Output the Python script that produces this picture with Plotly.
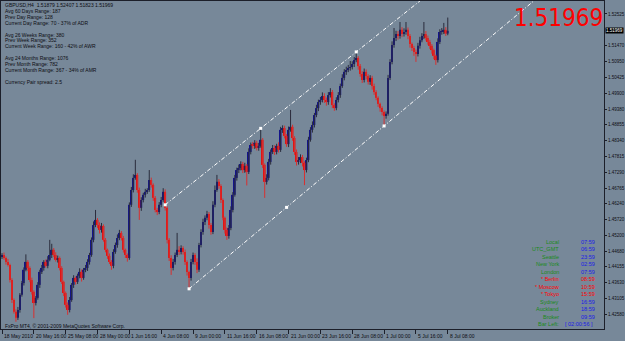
import plotly.graph_objects as go

# ---------------- data ----------------
symbol = "GBPUSD,H4"
first_open = 1.4450
closes = [
    1.4455, 1.4445, 1.4432, 1.4422, 1.4372, 1.4306, 1.4267, 1.4247, 1.4273, 1.4323, 1.4362, 1.4406, 1.4432, 1.4412, 1.4372,
    1.4333, 1.4296, 1.4313, 1.4356, 1.4399, 1.4412, 1.4432, 1.4419, 1.4439, 1.4455, 1.4472, 1.4455, 1.4439, 1.4445, 1.4412,
    1.4366, 1.4329, 1.4290, 1.4273, 1.4306, 1.4356, 1.4379, 1.4366, 1.4386, 1.4399, 1.4379, 1.4406, 1.4412, 1.4432, 1.4455,
    1.4505, 1.4554, 1.4571, 1.4554, 1.4538, 1.4551, 1.4505, 1.4472, 1.4452, 1.4432, 1.4419, 1.4465, 1.4488, 1.4511, 1.4528,
    1.4511, 1.4472, 1.4455, 1.4445, 1.4621, 1.4670, 1.4710, 1.4720, 1.4670, 1.4611, 1.4637, 1.4654, 1.4664, 1.4670, 1.4703,
    1.4687, 1.4644, 1.4604, 1.4597, 1.4621, 1.4637, 1.4664, 1.4611, 1.4505, 1.4445, 1.4412, 1.4432, 1.4455, 1.4472, 1.4465,
    1.4478, 1.4465, 1.4432, 1.4399, 1.4379, 1.4432, 1.4455, 1.4432, 1.4406, 1.4488, 1.4531, 1.4564, 1.4578, 1.4591, 1.4554,
    1.4531, 1.4621, 1.4670, 1.4697, 1.4683, 1.4637, 1.4578, 1.4538, 1.4518, 1.4544, 1.4604, 1.4654, 1.4710, 1.4736, 1.4743,
    1.4756, 1.4736, 1.4750, 1.4730, 1.4796, 1.4819, 1.4816, 1.4826, 1.4809, 1.4816, 1.4836, 1.4753, 1.4697, 1.4710, 1.4763,
    1.4796, 1.4809, 1.4796, 1.4816, 1.4803, 1.4869, 1.4875, 1.4849, 1.4822, 1.4869, 1.4879, 1.4842, 1.4796, 1.4763, 1.4769,
    1.4779, 1.4760, 1.4736, 1.4769, 1.4836, 1.4869, 1.4885, 1.4918, 1.4941, 1.4961, 1.4968, 1.4981, 1.4968, 1.4961, 1.4984,
    1.4994, 1.4951, 1.4941, 1.4968, 1.4984, 1.5014, 1.5041, 1.5061, 1.5067, 1.5074, 1.5077, 1.5087, 1.5100, 1.5107, 1.5080,
    1.5054, 1.5034, 1.5061, 1.5047, 1.5028, 1.5041, 1.5014, 1.4994, 1.4975, 1.4955, 1.4941, 1.4928, 1.4915, 1.4922, 1.5041,
    1.5094, 1.5150, 1.5173, 1.5186, 1.5180, 1.5200, 1.5186, 1.5193, 1.5200, 1.5180, 1.5153, 1.5140, 1.5127, 1.5120, 1.5147,
    1.5166, 1.5180, 1.5186, 1.5173, 1.5160, 1.5147, 1.5133, 1.5114, 1.5100, 1.5160, 1.5193, 1.5196, 1.5200, 1.51879, 1.51969,
]
# wick sizes in pips (above max(open, close) and below min(open, close))
up_wick_pips = [
    6, 8, 5, 10, 4, 6, 5, 8, 10, 6, 7, 8, 25, 6, 5,
    8, 5, 6, 9, 7, 10, 6, 8, 12, 50, 20, 6, 9, 8, 5,
    6, 4, 5, 8, 10, 6, 9, 5, 7, 12, 8, 6, 10, 9, 7,
    8, 12, 33, 6, 9, 10, 5, 6, 4, 8, 6, 9, 8, 12, 10,
    6, 7, 4, 5, 8, 10, 12, 50, 6, 8, 9, 7, 10, 6, 33,
    8, 5, 6, 7, 9, 10, 12, 8, 5, 6, 9, 10, 8, 56, 12,
    9, 6, 8, 5, 4, 10, 8, 6, 12, 7, 9, 11, 8, 10, 6,
    7, 12, 15, 23, 9, 6, 5, 4, 8, 10, 12, 9, 10, 8, 11,
    9, 7, 10, 6, 12, 8, 10, 9, 7, 10, 40, 6, 5, 12, 10,
    8, 10, 9, 7, 12, 10, 9, 8, 6, 11, 56, 7, 6, 8, 10,
    9, 7, 5, 8, 10, 9, 12, 7, 11, 8, 10, 12, 9, 8, 10,
    13, 7, 6, 9, 10, 8, 12, 9, 11, 10, 20, 9, 10, 20, 6,
    7, 9, 11, 8, 6, 9, 7, 8, 6, 5, 4, 6, 5, 8, 10,
    9, 12, 33, 11, 10, 26, 9, 12, 26, 8, 6, 5, 7, 8, 10,
    11, 9, 40, 10, 8, 7, 6, 5, 4, 12, 9, 10, 23, 9, 43.8,
]
down_wick_pips = [
    8, 6, 9, 5, 8, 10, 6, 13, 7, 9, 6, 8, 5, 10, 7,
    9, 50, 8, 6, 10, 7, 9, 6, 8, 5, 10, 7, 6, 9, 8,
    7, 10, 9, 16, 8, 6, 10, 9, 7, 8, 12, 6, 8, 10, 9,
    6, 8, 7, 10, 12, 9, 6, 8, 10, 7, 13, 8, 6, 9, 7,
    8, 9, 10, 12, 6, 7, 8, 6, 9, 40, 10, 8, 9, 7, 6,
    9, 10, 8, 10, 7, 8, 6, 9, 12, 10, 23, 8, 9, 7, 10,
    8, 9, 10, 12, 36, 9, 8, 10, 11, 7, 8, 9, 10, 8, 12,
    9, 7, 8, 6, 9, 10, 8, 12, 13, 9, 7, 8, 6, 9, 10,
    8, 10, 9, 45, 7, 8, 9, 10, 8, 9, 6, 10, 53, 9, 8,
    9, 7, 10, 8, 9, 7, 10, 8, 9, 10, 6, 9, 10, 12, 9,
    10, 12, 50, 8, 7, 6, 9, 8, 7, 10, 9, 8, 10, 12, 9,
    8, 10, 9, 7, 8, 9, 6, 8, 10, 7, 9, 8, 10, 7, 12,
    9, 10, 8, 11, 9, 10, 12, 9, 8, 10, 12, 11, 33, 9, 6,
    7, 8, 9, 10, 12, 9, 10, 8, 9, 11, 12, 10, 13, 26, 8,
    9, 7, 10, 8, 9, 10, 12, 11, 16, 8, 7, 9, 10, 8, 5.6,
]

time_tick_bars = [0, 16, 32, 48, 64, 80, 96, 112, 128, 144, 160, 176, 192, 208, 224]
time_tick_labels = ["18 May 2010", "20 May 16:00", "25 May 08:00", "28 May 00:00", "1 Jun 16:00",
                    "4 Jun 08:00", "9 Jun 00:00", "11 Jun 16:00", "16 Jun 08:00", "21 Jun 00:00",
                    "23 Jun 16:00", "28 Jun 08:00", "1 Jul 00:00", "5 Jul 16:00", "8 Jul 08:00"]
price_ticks = [1.52525, 1.51470, 1.50950, 1.50425, 1.49900, 1.49380, 1.48855, 1.48340, 1.47815, 1.47290,
               1.46765, 1.46240, 1.45720, 1.45200, 1.44680, 1.44155, 1.43630, 1.43105, 1.42580, 1.42070]

upper_anchor_bars = [82, 178]
upper_anchor_prices = [1.4621, 1.5127]
lower_anchor_bars = [94, 192]
lower_anchor_prices = [1.4343, 1.4882]

info_lines = [
    "Avg 60 Days Range: 187", "Prev Day Range: 128", "Current Day Range: 70 - 37% of ADR", "",
    "Avg 26 Weeks Range: 380", "Prev Week Range: 352", "Current Week Range: 160 - 42% of AWR", "",
    "Avg 24 Months Range: 1076", "Prev Month Range: 782", "Current Month Range: 367 - 34% of AMR", "",
    "Currency Pair spread: 2.5",
]
clock_labels = ["Local", "UTC_GMT", "Seattle", "New York", "London", "* Berlin", "* Moscow", "* Tokyo",
                "Sydney", "Auckland", "Broker", "Bar Left:"]
clock_values = ["07:59", "06:59", "23:59", "02:59", "07:59", "08:59", "10:59", "15:59",
                "16:59", "18:59", "09:59", "[ 02:00:56 ]"]
clock_flags = [0, 0, 0, 0, 0, 1, 1, 1, 0, 0, 0, 0]  # 1 = highlighted (red)
copyright_text = "FxPro MT4, © 2001-2009 MetaQuotes Software Corp."

# ---------------- derived OHLC ----------------
n = len(closes)
bars = list(range(n))
opens = [first_open] + closes[:-1]
highs = [max(o, c) + u * 0.0001 for o, c, u in zip(opens, closes, up_wick_pips)]
lows = [min(o, c) - d * 0.0001 for o, c, d in zip(opens, closes, down_wick_pips)]

BG = "#778899"
AXIS = "#1c1f2a"
TXT = "#0d0d12"
BULL = "#14148a"
BULL_WICK = "#2a2c3c"
BEAR = "#e01414"
BEAR_WICK = "#d83030"
GREEN = "#1a8a1a"
BLUE = "#1a1ae6"
RED = "#ff0000"
FONT = "Liberation Sans, Arial, sans-serif"

X0, X1 = -0.5, 302.5
Y0, Y1 = 1.4210, 1.52955

fig = go.Figure()

# wicks
for is_bull, wcol in ((True, BULL_WICK), (False, BEAR_WICK)):
    wx, wy = [], []
    for b, o, h, l, c in zip(bars, opens, highs, lows, closes):
        if (c >= o) == is_bull:
            wx += [b, b, None]
            wy += [l, h, None]
    fig.add_trace(go.Scatter(x=wx, y=wy, mode="lines", line=dict(color=wcol, width=1),
                             hoverinfo="skip", showlegend=False))

# bodies
for is_bull, bcol in ((True, BULL), (False, BEAR)):
    bx, bbase, bh = [], [], []
    for b, o, c in zip(bars, opens, closes):
        if (c >= o) == is_bull:
            bx.append(b)
            bbase.append(min(o, c))
            bh.append(max(abs(c - o), 0.00012))
    fig.add_trace(go.Bar(x=bx, y=bh, base=bbase, width=0.9, marker=dict(color=bcol, line=dict(width=0)),
                         hoverinfo="skip", showlegend=False))


def channel(anchor_bars, anchor_prices):
    slope = (anchor_prices[1] - anchor_prices[0]) / (anchor_bars[1] - anchor_bars[0])
    xs = [anchor_bars[0], X1]
    ys = [anchor_prices[0], anchor_prices[0] + slope * (X1 - anchor_bars[0])]
    fig.add_trace(go.Scatter(x=xs, y=ys, mode="lines",
                             line=dict(color="white", width=1, dash="4px,2px,1px,2px"),
                             hoverinfo="skip", showlegend=False))
    mid_b = (anchor_bars[0] + anchor_bars[1]) / 2
    mid_p = (anchor_prices[0] + anchor_prices[1]) / 2
    fig.add_trace(go.Scatter(x=[anchor_bars[0], mid_b, anchor_bars[1]],
                             y=[anchor_prices[0], mid_p, anchor_prices[1]],
                             mode="markers", marker=dict(symbol="square", size=3, color="white"),
                             hoverinfo="skip", showlegend=False, cliponaxis=False))


channel(upper_anchor_bars, upper_anchor_prices)
channel(lower_anchor_bars, lower_anchor_prices)

ann = []
# header line + info block
header = "%s  %.5f %.5f %.5f %.5f" % (symbol, opens[-1], highs[-1], lows[-1], closes[-1])
for k, line in enumerate([header] + info_lines):
    if not line:
        continue
    ann.append(dict(xref="paper", yref="paper", x=0, y=1, xanchor="left", yanchor="middle",
                    xshift=2, yshift=-(4 + 5.9 * k), text=line, showarrow=False,
                    font=dict(family=FONT, size=5, color=TXT)))

# big price
ann.append(dict(xref="paper", yref="paper", x=1, y=1, xanchor="right", yanchor="middle",
                xshift=1, yshift=-17, text="%.5f" % closes[-1], showarrow=False,
                font=dict(family="Liberation Sans Narrow, Arial Narrow, DejaVu Sans Condensed, Liberation Sans",
                          size=24, color=RED)))

# clock panel
for k, (lab, val, fl) in enumerate(zip(clock_labels, clock_values, clock_flags)):
    yshift = -(240.5 + 7.5 * k)
    ann.append(dict(xref="paper", yref="paper", x=0, y=1, xanchor="right", yanchor="middle",
                    xshift=560, yshift=yshift, text=lab, showarrow=False,
                    font=dict(family=FONT, size=5.5, color=RED if fl else GREEN)))
    vx = 562 if val.startswith("[") else 578
    ann.append(dict(xref="paper", yref="paper", x=0, y=1, xanchor="left", yanchor="middle",
                    xshift=vx, yshift=yshift, text=val, showarrow=False,
                    font=dict(family=FONT, size=5.5, color=RED if fl else BLUE)))

# copyright
ann.append(dict(xref="paper", yref="paper", x=0, y=0, xanchor="left", yanchor="middle",
                xshift=2, yshift=3, text=copyright_text, showarrow=False,
                font=dict(family=FONT, size=5, color=TXT)))

# time labels
for b, lab in zip(time_tick_bars, time_tick_labels):
    ann.append(dict(xref="x", yref="paper", x=b, y=0, xanchor="left", yanchor="middle",
                    xshift=0, yshift=-7, text=lab, showarrow=False,
                    font=dict(family=FONT, size=5, color=TXT)))

# current price marker on axis
ann.append(dict(xref="paper", yref="y", x=1, y=closes[-1], xanchor="left", yanchor="middle",
                xshift=1, text="%.5f" % closes[-1], showarrow=False, bgcolor="#000000",
                borderpad=0, font=dict(family=FONT, size=4.5, color="white")))

fig.update_layout(
    width=625, height=341,
    margin=dict(l=1, r=21, t=1, b=12, autoexpand=False),
    paper_bgcolor=BG, plot_bgcolor=BG,
    showlegend=False, barmode="overlay",
    font=dict(family=FONT, size=5, color=TXT),
    annotations=ann,
    xaxis=dict(range=[X0, X1], showgrid=False, zeroline=False,
               showline=True, mirror=True, linecolor=AXIS, linewidth=1,
               tickvals=time_tick_bars, ticks="outside", ticklen=4, tickcolor=AXIS, tickwidth=1,
               showticklabels=False, fixedrange=True),
    yaxis=dict(range=[Y0, Y1], side="right", showgrid=False, zeroline=False,
               showline=True, mirror=True, linecolor=AXIS, linewidth=1,
               tickvals=price_ticks, ticktext=["%.5f" % v for v in price_ticks],
               ticks="outside", ticklen=2, tickcolor=AXIS, tickwidth=1,
               tickfont=dict(family=FONT, size=4.5, color=TXT), fixedrange=True),
)

fig.write_html("out.html")
